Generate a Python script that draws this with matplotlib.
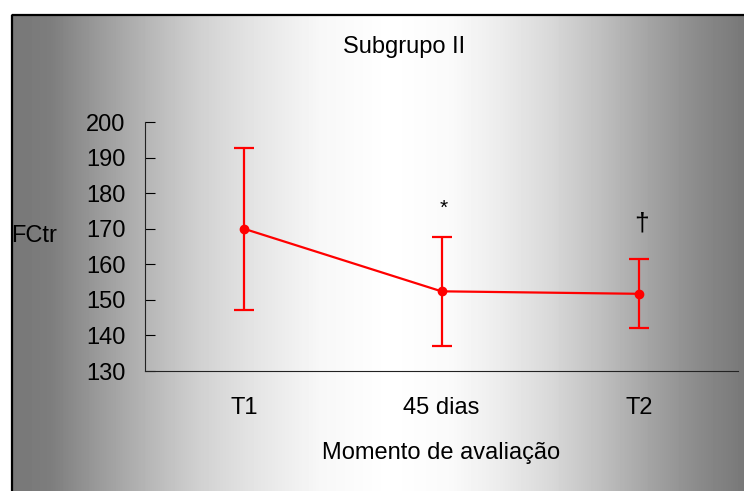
import numpy as np
import matplotlib.pyplot as plt
from matplotlib.patches import Rectangle

plt.rcParams['font.family'] = ['Liberation Sans', 'DejaVu Sans']

# dados
momentos = ["T1", "45 dias", "T2"]
fctr_media = [170.0, 152.4, 151.7]
fctr_dp = [22.8, 15.3, 9.7]
marcas = ["", "*", "†"]

fig = plt.figure(figsize=(7.44, 4.91), dpi=100)

# fundo em degradê (cinza - branco - cinza)
bg = fig.add_axes([0, 0, 1, 1], zorder=0)
W, H = 744, 491
x = np.arange(W)
px_stops = [11, 50, 100, 150, 200, 250, 320, 390, 450, 500, 550, 600, 650, 700, 744]
cinza_stops = [0.47, 0.49, 0.61, 0.72, 0.82, 0.89, 0.97, 1.0, 0.98, 0.925, 0.85, 0.75, 0.64, 0.54, 0.47]
g = np.interp(x, px_stops, cinza_stops)
img = np.tile(g, (H, 1))
img[:14, :] = 1.0
img[:, :11] = 1.0
bg.imshow(img, cmap="gray", vmin=0, vmax=1, aspect="auto", extent=(0, W, H, 0))
bg.add_patch(Rectangle((11.5, 14.5), 740, 490, fill=False, edgecolor="black", lw=1.6))
bg.set_xlim(0, W)
bg.set_ylim(H, 0)
bg.axis("off")

ax = fig.add_axes([145 / W, 1 - 371 / H, (738 - 145) / W, (371 - 122) / H], zorder=1)
ax.patch.set_alpha(0)

pos = np.arange(len(momentos)) + 0.5
ax.errorbar(pos, fctr_media, yerr=fctr_dp, color="red", marker="o", markersize=6,
            lw=1.6, elinewidth=1.6, capsize=7, capthick=1.6)

tam = {"*": 15, "†": 19}
desl = {"*": 8, "†": 10}
for p, m, e, s in zip(pos, fctr_media, fctr_dp, marcas):
    if s:
        ax.text(p + 0.01, m + e + desl[s], s, ha="center", va="center", fontsize=tam[s])

ax.set_xlim(0, 3)
ax.set_ylim(130, 200)
ax.set_yticks(range(130, 201, 10))
ax.set_xticks(pos)
ax.set_xticklabels(momentos)
ax.tick_params(axis="y", direction="in", length=7, labelsize=17, pad=14)
ax.tick_params(axis="x", length=0, labelsize=17, pad=19)
ax.spines["top"].set_visible(False)
ax.spines["right"].set_visible(False)
ax.spines["left"].set_color("#222222")
ax.spines["bottom"].set_color("#222222")

ax.set_xlabel("Momento de avaliação", fontsize=17, labelpad=16)
fig.text(11 / W, 1 - 236 / H, "FCtr", fontsize=17, ha="left", va="center")
fig.text(404 / W, 1 - 47 / H, "Subgrupo II", fontsize=17, ha="center", va="center")

fig.savefig("out.png", dpi=100)
